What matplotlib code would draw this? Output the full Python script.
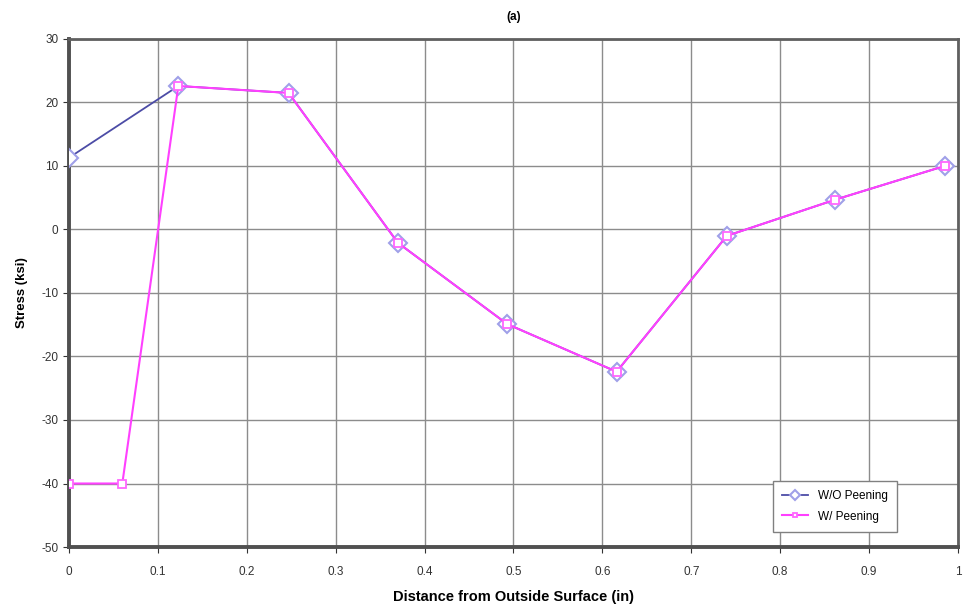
import matplotlib.pyplot as plt
import numpy as np

plt.rcParams['font.family'] = ['Liberation Sans', 'DejaVu Sans']
plt.rcParams['axes.unicode_minus'] = False

# Dados
dist_sem = [0.0, 0.123, 0.247, 0.370, 0.493, 0.616, 0.740, 0.862, 0.985]
tensao_sem = [11.3, 22.6, 21.5, -2.1, -14.9, -22.4, -1.0, 4.7, 10.0]

dist_com = [0.0, 0.06, 0.123, 0.247, 0.370, 0.493, 0.616, 0.740, 0.862, 0.985]
tensao_com = [-40.0, -40.0, 22.6, 21.5, -2.1, -14.9, -22.4, -1.0, 4.7, 10.0]

xticks = np.arange(0, 1.01, 0.1)
yticks = np.arange(-50, 31, 10)

fig = plt.figure(figsize=(9.66, 6.09), dpi=100)
ax = fig.add_axes([0.0714, 0.1018, 0.9203, 0.8342])

ax.plot(dist_sem, tensao_sem, color='#4c4ca6', linewidth=1.3, marker='D',
        markersize=9, markerfacecolor='white', markeredgecolor='#a0a0e8',
        markeredgewidth=1.5, label='W/O Peening', zorder=3)
ax.plot(dist_com, tensao_com, color='#ff40ff', linewidth=1.5, marker='s',
        markersize=5.5, markerfacecolor='white', markeredgecolor='#ff66ff',
        markeredgewidth=1.3, label='W/ Peening', zorder=4)

ax.set_xlim(0, 1)
ax.set_ylim(-50, 30)
ax.set_xticks(xticks)
ax.set_xticklabels(['0', '0.1', '0.2', '0.3', '0.4', '0.5', '0.6', '0.7', '0.8', '0.9', '1'])
ax.set_yticks(yticks)
ax.tick_params(labelsize=8.5, colors='#333333', length=4)
ax.tick_params(axis='x', pad=10)

ax.grid(True, color='#8c8c8c', linewidth=1)
ax.set_axisbelow(True)
for lado in ['left', 'bottom']:
    ax.spines[lado].set_linewidth(2.8)
    ax.spines[lado].set_color('#505050')
for lado in ['top', 'right']:
    ax.spines[lado].set_linewidth(2)
    ax.spines[lado].set_color('#606060')

ax.set_title('(a)', fontsize=8.5, fontweight='bold', pad=14)
ax.set_xlabel('Distance from Outside Surface (in)', fontsize=10.5, fontweight='bold', labelpad=8)
ax.set_ylabel('Stress (ksi)', fontsize=9.5, fontweight='bold', labelpad=10)

leg = ax.legend(loc='lower right', bbox_to_anchor=(0.938, 0.018), fontsize=8.5,
                fancybox=False, framealpha=1, edgecolor='#808080',
                markerscale=0.6, handlelength=2.2, borderpad=0.8,
                labelspacing=0.7)
leg.get_frame().set_linewidth(1)

plt.savefig('out.png', dpi=100)
